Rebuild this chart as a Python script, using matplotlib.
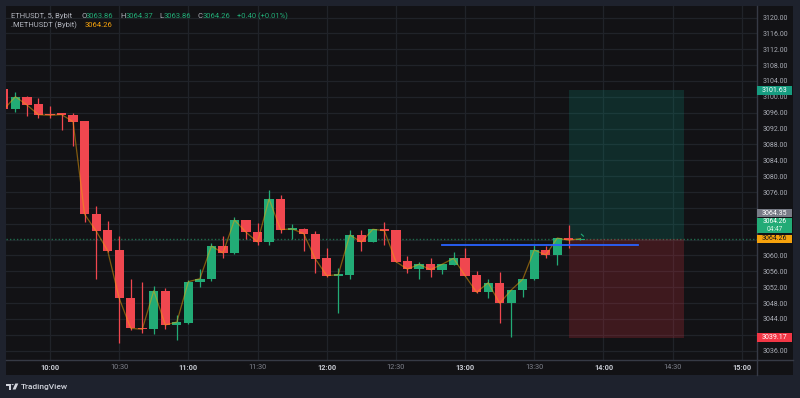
import matplotlib
matplotlib.use('Agg')
import matplotlib.pyplot as plt
from matplotlib.patches import Rectangle, Polygon, Circle
from matplotlib import transforms
from matplotlib.lines import Line2D

plt.rcParams['font.family'] = ['Roboto', 'DejaVu Sans']

# ---------------- data ----------------
times = ["09:40", "09:45", "09:50", "09:55", "10:00", "10:05", "10:10", "10:15", "10:20", "10:25",
         "10:30", "10:35", "10:40", "10:45", "10:50", "10:55", "11:00", "11:05", "11:10", "11:15",
         "11:20", "11:25", "11:30", "11:35", "11:40", "11:45", "11:50", "11:55", "12:00", "12:05",
         "12:10", "12:15", "12:20", "12:25", "12:30", "12:35", "12:40", "12:45", "12:50", "12:55",
         "13:00", "13:05", "13:10", "13:15", "13:20", "13:25", "13:30", "13:35", "13:40", "13:45",
         "13:50"]
opens = [3101.90, 3096.85, 3100.03, 3098.11, 3095.74, 3095.62, 3095.49, 3093.90, 3070.45, 3066.34,
         3061.38, 3049.35, 3041.79, 3041.38, 3051.12, 3042.47, 3043.05, 3053.23, 3053.99, 3062.38,
         3060.54, 3068.94, 3065.99, 3063.39, 3074.24, 3066.50, 3066.67, 3065.49, 3059.28, 3054.90,
         3055.15, 3065.16, 3063.39, 3066.67, 3066.34, 3058.48, 3056.51, 3057.77, 3056.33, 3057.59,
         3059.28, 3055.07, 3050.71, 3053.13, 3047.94, 3051.29, 3053.99, 3061.45, 3060.12, 3064.35,
         3063.86]
highs = [3102.10, 3101.22, 3100.10, 3099.63, 3097.69, 3095.84, 3095.84, 3093.95, 3072.40, 3068.76,
         3064.91, 3053.99, 3053.31, 3052.38, 3051.80, 3044.99, 3053.80, 3056.51, 3063.22, 3064.91,
         3069.77, 3069.00, 3068.26, 3076.50, 3075.32, 3067.93, 3066.80, 3066.24, 3061.81, 3056.84,
         3066.42, 3066.42, 3066.70, 3068.44, 3066.40, 3059.91, 3058.28, 3059.28, 3057.80, 3060.87,
         3061.81, 3056.01, 3053.99, 3055.90, 3051.35, 3054.05, 3062.64, 3062.38, 3064.45, 3067.68,
         3064.37]
lows = [3096.60, 3096.25, 3095.16, 3094.74, 3094.74, 3091.63, 3087.68, 3068.51, 3053.99, 3060.90,
        3038.00, 3041.20, 3040.37, 3040.20, 3041.53, 3038.68, 3042.60, 3052.12, 3053.64, 3059.36,
        3060.30, 3064.15, 3062.71, 3062.71, 3065.74, 3064.15, 3061.05, 3055.65, 3054.64, 3045.57,
        3054.14, 3061.20, 3063.30, 3062.64, 3058.30, 3055.50, 3054.14, 3054.57, 3055.33, 3057.50,
        3054.85, 3050.65, 3049.35, 3043.05, 3039.52, 3049.45, 3053.90, 3059.43, 3057.59, 3061.81,
        3063.86]
closes = [3096.85, 3100.03, 3097.94, 3095.49, 3095.34, 3095.52, 3093.73, 3070.38, 3066.17, 3061.20,
          3049.20, 3041.63, 3041.38, 3051.12, 3042.47, 3043.22, 3053.38, 3054.14, 3062.38, 3060.62,
          3068.94, 3065.84, 3063.39, 3074.24, 3066.50, 3066.70, 3065.49, 3059.18, 3054.90, 3055.15,
          3065.16, 3063.39, 3066.60, 3066.24, 3058.43, 3056.54, 3057.77, 3056.41, 3057.77, 3059.28,
          3054.90, 3050.71, 3053.13, 3047.94, 3051.29, 3053.99, 3061.38, 3060.12, 3064.40, 3063.82,
          3064.26]
meth_close = closes  # .METHUSDT line follows the close path

last_price = 3064.26
prev_label = 3064.35
target_price = 3101.63
stop_price = 3039.17
entry_time, exit_time = "13:45", "14:35"
hline_price = 3062.70
hline_from, hline_to = "12:50", "14:15"

price_ticks = list(range(3036, 3121, 4))
hidden_ticks = [3040, 3064, 3068, 3072]  # covered by the price boxes
time_ticks = ["10:00", "10:30", "11:00", "11:30", "12:00", "12:30", "13:00", "13:30",
              "14:00", "14:30", "15:00"]

# ---------------- helpers ----------------
def tidx(s):
    h, m = map(int, s.split(":"))
    return ((h * 60 + m) - 600) / 5.0

W, H = 800, 398
BG = '#121215'
FRAME = '#1e222d'
GRID = '#202329'
SEP = '#363a45'
UP = '#22ab76'
DOWN = '#f0474f'

fig = plt.figure(figsize=(W / 100, H / 100), dpi=100, facecolor=FRAME)

def fx(px):
    return px / W

def fy(py):
    return (H - py) / H

# chart panel
fig.add_artist(Rectangle((fx(6), fy(375)), fx(793) - fx(6), fy(6) - fy(375),
                         transform=fig.transFigure, facecolor=BG, edgecolor='none', zorder=-5))

ax = fig.add_axes([fx(6), fy(360), fx(756.7) - fx(6), fy(6) - fy(360)])
ax.set_facecolor(BG)
ax.set_xlim(-3.816, 61.29)
ax.set_ylim(3033.64, 3122.9)

# grid
ax.set_yticks(price_ticks)
ax.set_xticks([tidx(t) for t in time_ticks])
ax.grid(True, color=GRID, linewidth=0.9, zorder=0)
ax.set_axisbelow(True)

for s in ['top', 'left']:
    ax.spines[s].set_visible(False)
for s in ['right', 'bottom']:
    ax.spines[s].set_color(SEP)
    ax.spines[s].set_linewidth(1)

ax.yaxis.tick_right()
ax.tick_params(axis='y', length=0, pad=13.2, labelsize=5, labelcolor='#a9acb5')
ax.set_yticklabels(["" if p in hidden_ticks else f"{p:.2f}" for p in price_ticks])
for lab in ax.get_yticklabels():
    lab.set_horizontalalignment('center')

ax.tick_params(axis='x', length=0, pad=3.2, labelsize=5.3)
ax.set_xticklabels(time_ticks)
for lab, t in zip(ax.get_xticklabels(), time_ticks):
    if t.endswith(":00"):
        lab.set_fontweight('bold')
        lab.set_color('#c9ccd4')
    else:
        lab.set_color('#7f828c')

# extra separators
fig.add_artist(Line2D([fx(756.7), fx(756.7)], [fy(360), fy(375)], transform=fig.transFigure,
                      color=SEP, linewidth=1))
fig.add_artist(Line2D([fx(756.7), fx(793)], [fy(360), fy(360)], transform=fig.transFigure,
                      color=SEP, linewidth=1))

# last price dotted line
ax.axhline(last_price, color='#1f6a4c', linewidth=1, linestyle=(0, (1, 1.5)), zorder=1)

# position tool
x0, x1 = tidx(entry_time), tidx(exit_time)
ax.add_patch(Rectangle((x0, last_price), x1 - x0, target_price - last_price,
                       facecolor='#089981', alpha=0.2, edgecolor='none', zorder=1.5))
ax.add_patch(Rectangle((x0, stop_price), x1 - x0, last_price - stop_price,
                       facecolor='#f23645', alpha=0.2, edgecolor='none', zorder=1.5))

# candles
xs = [tidx(t) for t in times]
for x, o, h, l, c in zip(xs, opens, highs, lows, closes):
    col = UP if c >= o else DOWN
    ax.vlines(x, l, h, color=col, linewidth=0.9, zorder=3)
    bottom = min(o, c)
    height = max(abs(c - o), 0.3)
    ax.bar(x, height, bottom=bottom, width=0.8, color=col, edgecolor='none', zorder=3)

# .METHUSDT line
ax.plot(xs, meth_close, color='#f0a30a', alpha=0.5, linewidth=0.9, zorder=4)

# blue horizontal line
ax.plot([tidx(hline_from), tidx(hline_to)], [hline_price, hline_price], color='#2962ff',
        linewidth=1.3, zorder=4)

# small green arrow at last bar
ax.annotate('', xy=(tidx("13:50") + 0.45, last_price + 0.1), xytext=(tidx("13:50") - 0.1, last_price + 1.6),
            arrowprops=dict(arrowstyle='-', color=UP, lw=0.8), zorder=5)

# price boxes
bt = transforms.blended_transform_factory(fig.transFigure, ax.transData)
pp = 1 / 3.966  # price per pixel

def price_box(center, hpx, color, txt, txtcolor):
    half = hpx / 2 * pp
    fig.add_artist(Rectangle((fx(757), center - half), fx(792) - fx(757), 2 * half,
                             transform=bt, facecolor=color, edgecolor='none', zorder=5,
                             clip_on=False))
    if txt is not None:
        fig.text(fx(774.5), center, txt, transform=bt, ha='center', va='center', fontsize=5,
                 color=txtcolor, zorder=6)

price_box(target_price, 8.6, '#169c80', f"{target_price:.2f}", '#ffffff')
price_box(3120 - (213.3 - 17.5) * pp, 8.0, '#787b86', f"{prev_label:.2f}", '#ffffff')
gc = 3120 - (225.7 - 17.5) * pp
price_box(gc, 15.3, UP, None, '#ffffff')
fig.text(fx(774.5), 3120 - (222.0 - 17.5) * pp, f"{last_price:.2f}", transform=bt, ha='center',
         va='center', fontsize=4.8, color='#ffffff', zorder=6)
fig.text(fx(774.5), 3120 - (230.0 - 17.5) * pp, "04:47", transform=bt, ha='center',
         va='center', fontsize=4.8, color='#d8f5e6', zorder=6)
price_box(3120 - (238.7 - 17.5) * pp, 8.0, '#f5a20c', f"{last_price:.2f}", '#131722')
price_box(3120 - (338 - 17.5) * pp, 9.0, '#f23645', f"{stop_price:.2f}", '#ffffff')

# legend
GREY = '#b2b5be'
LG = '#22ab76'
y1 = fy(15.8)
parts = [(11, "ETHUSDT, 5, Bybit", GREY), (81, "O", GREY), (86, "3063.86", LG),
         (120.5, "H", GREY), (125.7, "3064.37", LG), (159.3, "L", GREY), (163.3, "3063.86", LG),
         (197.5, "C", GREY), (202.7, "3064.26", LG), (236.5, "+0.40 (+0.01%)", LG)]
for px, s, c in parts:
    fig.text(fx(px), y1, s, color=c, fontsize=5.5, ha='left', va='center')
y2 = fy(25.3)
fig.text(fx(11), y2, ".METHUSDT (Bybit)", color=GREY, fontsize=5.5, ha='left', va='center')
fig.text(fx(85), y2, f"{last_price:.2f}", color='#f5a20c', fontsize=5.5, ha='left', va='center')

# TradingView logo
LOGO = '#d1d4dc'
def pxpoly(pts):
    return Polygon([(fx(a), fy(b)) for a, b in pts], closed=True, transform=fig.transFigure,
                   facecolor=LOGO, edgecolor='none')
fig.add_artist(pxpoly([(6, 383.5), (11, 383.5), (11, 389.5), (8.6, 389.5), (8.6, 385.6), (6, 385.6)]))
fig.add_artist(Circle((fx(12.6), fy(384.6)), 1.1 / W, transform=fig.transFigure,
                      facecolor=LOGO, edgecolor='none'))
fig.add_artist(pxpoly([(15.3, 383.5), (18.3, 383.5), (15.6, 389.5), (12.6, 389.5)]))
fig.text(fx(21), fy(386.5), "TradingView", color=LOGO, fontsize=6, fontweight='medium',
         ha='left', va='center')

fig.savefig('out.png', dpi=100, facecolor=FRAME)
